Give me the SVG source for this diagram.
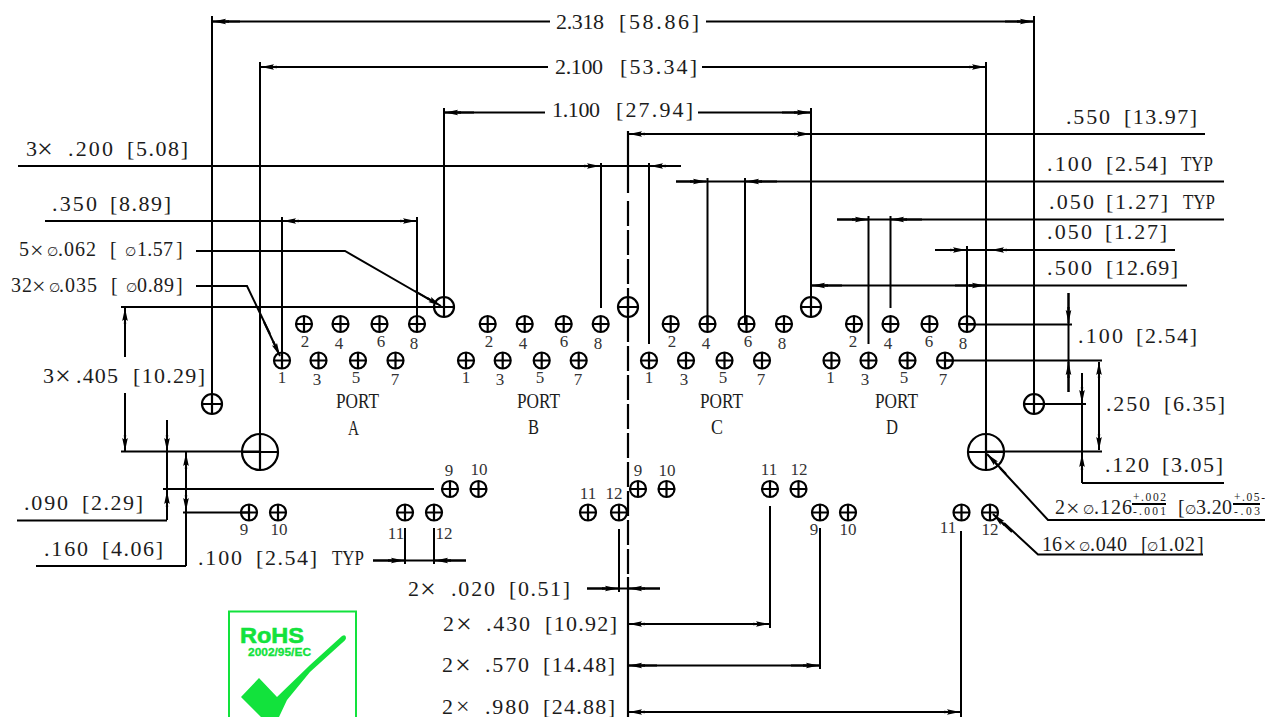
<svg xmlns="http://www.w3.org/2000/svg" width="1265" height="717" viewBox="0 0 1265 717">
<style>
text{font-family:"Liberation Serif","Noto Sans CJK SC",serif;fill:#1c1c1c}
.t{font-size:22px}
.s{font-size:20px}
.n{font-size:17px;text-anchor:middle;fill:#333}
.x{font-size:28px;baseline-shift:-2px}
.y{font-size:24px;baseline-shift:-1.500px}
.z{font-size:24px}
.d{font-size:13px;font-family:"DejaVu Sans",sans-serif}
.f{font-size:11.500px}
#connectors line,#connectors path{stroke:#000;stroke-width:2;fill:none}
#connectors .a{marker-end:url(#arr)}
.h circle,.h path{fill:none;stroke:#000;stroke-width:2.200}
.r{font-family:"Liberation Sans",Arial,sans-serif;font-weight:700;fill:#12e23c;stroke:#12e23c}
</style>
<defs>
<marker id="arr" markerUnits="userSpaceOnUse" markerWidth="18" markerHeight="10" refX="16" refY="5" orient="auto"><path d="M0,3.800L16,5L0,6.200Z" fill="#000"/><path d="M3,2.200L16,5L3,7.800L5,5Z" fill="#000"/></marker>
<g id="pin" class="h"><circle r="8"/><path d="M-8,0H8M0,-8V8"/></g>
<g id="hole" class="h"><circle r="10"/><path d="M-10,0H10M0,-10V10"/></g>
<g id="big" class="h"><circle r="18"/><path d="M-18,0H18M0,-18V18"/></g>
</defs>
<rect width="1265" height="717" fill="#fff"/>

<g id="connectors">
<line x1="212" y1="16" x2="212" y2="404"/><line x1="1034" y1="16" x2="1034" y2="404"/>
<line x1="212" y1="21.500" x2="550" y2="21.500"/><line x1="706" y1="21.500" x2="1034" y2="21.500"/>
<line class="a" x1="240" y1="21.500" x2="213" y2="21.500"/><line class="a" x1="1005" y1="21.500" x2="1033" y2="21.500"/>
<line x1="260" y1="62" x2="260" y2="470"/><line x1="986" y1="62" x2="986" y2="470"/>
<line x1="260" y1="67" x2="548" y2="67"/><line x1="702" y1="67" x2="986" y2="67"/>
<line class="a" x1="290" y1="67" x2="261" y2="67"/><line class="a" x1="957" y1="67" x2="985" y2="67"/>
<line x1="444" y1="108" x2="444" y2="317"/><line x1="811" y1="108" x2="811" y2="317"/>
<line x1="444" y1="112.500" x2="545" y2="112.500"/><line x1="698" y1="112.500" x2="811" y2="112.500"/>
<line class="a" x1="474" y1="112.500" x2="445" y2="112.500"/><line class="a" x1="782" y1="112.500" x2="810" y2="112.500"/>
<line x1="628" y1="134" x2="1205" y2="134"/>
<line class="a" x1="657" y1="134" x2="629" y2="134"/><line class="a" x1="782" y1="134" x2="810" y2="134"/>
<line x1="628" y1="131" x2="628" y2="193" style="stroke-width:2.200"/>
<line x1="628" y1="201" x2="628" y2="576" style="stroke-width:2.200;stroke-dasharray:25 4"/>
<line x1="628" y1="577" x2="628" y2="717" style="stroke-width:2.200"/>
<line x1="18" y1="166" x2="681" y2="166"/>
<line class="a" x1="570" y1="166" x2="600" y2="166"/><line class="a" x1="681" y1="166" x2="650" y2="166"/>
<line x1="601" y1="163" x2="601" y2="308"/><line x1="649" y1="163" x2="649" y2="344"/>
<line x1="676" y1="181.500" x2="1224" y2="181.500"/>
<line class="a" x1="676" y1="181.500" x2="706" y2="181.500"/><line class="a" x1="777" y1="181.500" x2="746" y2="181.500"/>
<line x1="707.500" y1="178" x2="707.500" y2="324"/><line x1="745" y1="178" x2="745" y2="324"/>
<line x1="837" y1="219.500" x2="1224" y2="219.500"/>
<line class="a" x1="837" y1="219.500" x2="868" y2="219.500"/><line class="a" x1="922" y1="219.500" x2="891" y2="219.500"/>
<line x1="868.500" y1="216" x2="868.500" y2="344"/><line x1="890.500" y1="216" x2="890.500" y2="308"/>
<line x1="935" y1="250" x2="1175" y2="250"/>
<line class="a" x1="935" y1="250" x2="966" y2="250"/><line class="a" x1="1018" y1="250" x2="991" y2="250"/>
<line x1="967" y1="246" x2="967" y2="324"/>
<line x1="811" y1="285.500" x2="1187" y2="285.500"/>
<line class="a" x1="842" y1="285.500" x2="812" y2="285.500"/><line class="a" x1="955" y1="285.500" x2="985" y2="285.500"/>
<line x1="45" y1="221" x2="417" y2="221"/>
<line class="a" x1="312" y1="221" x2="283" y2="221"/><line class="a" x1="388" y1="221" x2="416" y2="221"/>
<line x1="282" y1="217" x2="282" y2="360"/><line x1="417" y1="217" x2="417" y2="324"/>
<path d="M196,251H345L430,300"/><line class="a" x1="415" y1="291" x2="441" y2="306"/>
<path d="M196,286H247L270,334"/><line class="a" x1="264" y1="322" x2="280" y2="356"/>
<path d="M1265,520H1048L1000,468"/><line class="a" x1="1006" y1="474" x2="987" y2="454"/>
<path d="M1203,554.500H1038L1004,523"/><line class="a" x1="1012" y1="532" x2="993" y2="514"/>
<line x1="121" y1="307" x2="444" y2="307"/><line x1="121" y1="451.500" x2="260" y2="451.500"/>
<line class="a" x1="125" y1="357" x2="125" y2="308"/><line class="a" x1="125" y1="393" x2="125" y2="451"/>
<line x1="167" y1="420" x2="167" y2="520"/><line x1="17" y1="520.500" x2="167" y2="520.500"/>
<line class="a" x1="167" y1="425" x2="167" y2="451"/><line class="a" x1="167" y1="516" x2="167" y2="491"/>
<line x1="163" y1="489" x2="434" y2="489"/>
<line x1="186" y1="452" x2="186" y2="566"/><line x1="36" y1="566" x2="186" y2="566"/>
<line class="a" x1="186" y1="480" x2="186" y2="453"/><line class="a" x1="186" y1="485" x2="186" y2="511"/>
<line x1="183" y1="512.500" x2="249" y2="512.500"/>
<line x1="967" y1="324.500" x2="1072" y2="324.500"/><line x1="945" y1="360.500" x2="1102" y2="360.500"/>
<line x1="1068.500" y1="293" x2="1068.500" y2="392"/>
<line class="a" x1="1068.500" y1="293" x2="1068.500" y2="323"/><line class="a" x1="1068.500" y1="392" x2="1068.500" y2="362"/>
<line x1="1082" y1="373" x2="1082" y2="483"/><line x1="1082" y1="483" x2="1224" y2="483"/>
<line class="a" x1="1082" y1="375" x2="1082" y2="403"/><line class="a" x1="1082" y1="483" x2="1082" y2="454"/>
<line x1="1034" y1="404" x2="1086" y2="404"/>
<line x1="986" y1="451.500" x2="1102" y2="451.500"/>
<line x1="1099" y1="362" x2="1099" y2="450"/>
<line class="a" x1="1099" y1="390" x2="1099" y2="362"/><line class="a" x1="1099" y1="422" x2="1099" y2="450"/>
<line x1="373" y1="560.500" x2="466" y2="560.500"/>
<line class="a" x1="373" y1="560.500" x2="404" y2="560.500"/><line class="a" x1="466" y1="560.500" x2="435" y2="560.500"/>
<line x1="405" y1="528" x2="405" y2="564"/><line x1="434" y1="528" x2="434" y2="564"/>
<line x1="587" y1="588.500" x2="660" y2="588.500"/>
<line class="a" x1="587" y1="588.500" x2="618" y2="588.500"/><line class="a" x1="660" y1="588.500" x2="629" y2="588.500"/>
<line x1="619" y1="529" x2="619" y2="592"/>
<line x1="628" y1="624" x2="770" y2="624"/>
<line class="a" x1="657" y1="624" x2="629" y2="624"/><line class="a" x1="741" y1="624" x2="769" y2="624"/>
<line x1="770" y1="506" x2="770" y2="628"/>
<line x1="628" y1="665.500" x2="820" y2="665.500"/>
<line class="a" x1="657" y1="665.500" x2="629" y2="665.500"/><line class="a" x1="791" y1="665.500" x2="819" y2="665.500"/>
<line x1="820" y1="528" x2="820" y2="669"/>
<line x1="628" y1="712" x2="961" y2="712"/>
<line class="a" x1="657" y1="712" x2="629" y2="712"/><line class="a" x1="932" y1="712" x2="960" y2="712"/>
<line x1="961" y1="531" x2="961" y2="717"/>
</g>

<g id="holes">
<use href="#hole" x="444" y="307"/><use href="#hole" x="628" y="307"/><use href="#hole" x="811" y="307"/>
<use href="#hole" x="212" y="404"/><use href="#hole" x="1034" y="404"/>
<use href="#big" x="260" y="452"/><use href="#big" x="986" y="452"/>
</g>

<g id="port-a">
<use href="#pin" x="304" y="324"/><use href="#pin" x="340.500" y="324"/><use href="#pin" x="379.500" y="324"/><use href="#pin" x="417" y="324"/>
<use href="#pin" x="282" y="360.500"/><use href="#pin" x="318.500" y="360.500"/><use href="#pin" x="358" y="360.500"/><use href="#pin" x="395.500" y="360.500"/>
<text class="n" x="305" y="347">2</text><text class="n" x="339" y="349">4</text><text class="n" x="381" y="347">6</text><text class="n" x="414" y="349">8</text>
<text class="n" x="282" y="383">1</text><text class="n" x="317" y="385">3</text><text class="n" x="356" y="383">5</text><text class="n" x="395" y="385">7</text>
<text class="t" x="336" y="408" textLength="43" lengthAdjust="spacingAndGlyphs">PORT</text><text class="t" x="348" y="435" textLength="11" lengthAdjust="spacingAndGlyphs">A</text>
<use href="#pin" x="450" y="489"/><use href="#pin" x="478.500" y="489"/><use href="#pin" x="249" y="512.500"/><use href="#pin" x="278" y="512.500"/><use href="#pin" x="405" y="512.500"/><use href="#pin" x="434" y="512.500"/>
<text class="n" x="449" y="476">9</text><text class="n" x="479" y="475">10</text><text class="n" x="244" y="535">9</text><text class="n" x="279" y="535">10</text><text class="n" x="396" y="539">11</text><text class="n" x="444" y="539">12</text>
</g>
<g id="port-b">
<use href="#pin" x="487.700" y="324"/><use href="#pin" x="524.700" y="324"/><use href="#pin" x="563.700" y="324"/><use href="#pin" x="600.700" y="324"/>
<use href="#pin" x="466" y="360.500"/><use href="#pin" x="502.700" y="360.500"/><use href="#pin" x="541.700" y="360.500"/><use href="#pin" x="578.700" y="360.500"/>
<text class="n" x="489" y="347">2</text><text class="n" x="523" y="349">4</text><text class="n" x="564" y="347">6</text><text class="n" x="598" y="349">8</text>
<text class="n" x="466" y="383">1</text><text class="n" x="500" y="385">3</text><text class="n" x="540" y="383">5</text><text class="n" x="578" y="385">7</text>
<text class="t" x="517" y="408" textLength="43" lengthAdjust="spacingAndGlyphs">PORT</text><text class="t" x="528" y="434" textLength="11" lengthAdjust="spacingAndGlyphs">B</text>
<use href="#pin" x="588" y="512.500"/><use href="#pin" x="619" y="512.500"/><use href="#pin" x="638" y="489"/><use href="#pin" x="666.500" y="489"/>
<text class="n" x="588" y="499">11</text><text class="n" x="614" y="499">12</text><text class="n" x="638" y="476">9</text><text class="n" x="667" y="476">10</text>
</g>
<g id="port-c">
<use href="#pin" x="670.700" y="324"/><use href="#pin" x="707.500" y="324"/><use href="#pin" x="746.500" y="324"/><use href="#pin" x="784" y="324"/>
<use href="#pin" x="649" y="360.500"/><use href="#pin" x="686" y="360.500"/><use href="#pin" x="724.500" y="360.500"/><use href="#pin" x="762" y="360.500"/>
<text class="n" x="672" y="347">2</text><text class="n" x="706" y="349">4</text><text class="n" x="748" y="347">6</text><text class="n" x="782" y="349">8</text>
<text class="n" x="649" y="383">1</text><text class="n" x="684" y="385">3</text><text class="n" x="723" y="383">5</text><text class="n" x="761" y="385">7</text>
<text class="t" x="700" y="408" textLength="43" lengthAdjust="spacingAndGlyphs">PORT</text><text class="t" x="711" y="434" textLength="12" lengthAdjust="spacingAndGlyphs">C</text>
<use href="#pin" x="770" y="489"/><use href="#pin" x="798.500" y="489"/><use href="#pin" x="820" y="512.500"/><use href="#pin" x="848" y="512.500"/>
<text class="n" x="769" y="475">11</text><text class="n" x="799" y="475">12</text><text class="n" x="814" y="535">9</text><text class="n" x="848" y="535">10</text>
</g>
<g id="port-d">
<use href="#pin" x="854" y="324"/><use href="#pin" x="890.500" y="324"/><use href="#pin" x="929.500" y="324"/><use href="#pin" x="967" y="324"/>
<use href="#pin" x="831.500" y="360.500"/><use href="#pin" x="868.500" y="360.500"/><use href="#pin" x="907.500" y="360.500"/><use href="#pin" x="945" y="360.500"/>
<text class="n" x="853" y="347">2</text><text class="n" x="888" y="349">4</text><text class="n" x="929" y="347">6</text><text class="n" x="963" y="349">8</text>
<text class="n" x="830.500" y="383">1</text><text class="n" x="865" y="385">3</text><text class="n" x="904" y="383">5</text><text class="n" x="943" y="385">7</text>
<text class="t" x="875" y="408" textLength="43" lengthAdjust="spacingAndGlyphs">PORT</text><text class="t" x="886" y="434" textLength="12" lengthAdjust="spacingAndGlyphs">D</text>
<use href="#pin" x="961.500" y="512.500"/><use href="#pin" x="990" y="512.500"/>
<text class="n" x="948" y="533">11</text><text class="n" x="990" y="535">12</text>
</g>

<g id="labels">
<text class="t" y="29"><tspan x="556" textLength="48">2.318</tspan> <tspan x="619" textLength="80">[58.86]</tspan></text>
<text class="t" y="74"><tspan x="555" textLength="48">2.100</tspan> <tspan x="620" textLength="77">[53.34]</tspan></text>
<text class="t" y="117"><tspan x="552" textLength="48">1.100</tspan> <tspan x="616" textLength="77">[27.94]</tspan></text>
<text class="t" y="124"><tspan x="1066" textLength="44">.550</tspan> <tspan x="1124" textLength="73">[13.97]</tspan></text>
<text class="t" y="171"><tspan x="1047" textLength="45">.100</tspan> <tspan x="1106" textLength="61">[2.54]</tspan> <tspan x="1181" textLength="32" lengthAdjust="spacingAndGlyphs">TYP</tspan></text>
<text class="t" y="209"><tspan x="1049" textLength="45">.050</tspan> <tspan x="1106" textLength="62">[1.27]</tspan> <tspan x="1183" textLength="32" lengthAdjust="spacingAndGlyphs">TYP</tspan></text>
<text class="t" y="239"><tspan x="1047" textLength="45">.050</tspan> <tspan x="1105" textLength="62">[1.27]</tspan></text>
<text class="t" y="275"><tspan x="1047" textLength="45">.500</tspan> <tspan x="1106" textLength="72">[12.69]</tspan></text>
<text class="t" y="343"><tspan x="1078" textLength="45">.100</tspan> <tspan x="1136" textLength="61">[2.54]</tspan></text>
<text class="t" y="411"><tspan x="1106" textLength="44">.250</tspan> <tspan x="1164" textLength="61">[6.35]</tspan></text>
<text class="t" y="472"><tspan x="1105" textLength="44">.120</tspan> <tspan x="1162" textLength="61">[3.05]</tspan></text>
<text class="t" y="156"><tspan x="26">3</tspan><tspan class="x" x="37">×</tspan> <tspan x="68" textLength="45">.200</tspan> <tspan x="127" textLength="61">[5.08]</tspan></text>
<text class="t" y="211"><tspan x="52" textLength="45">.350</tspan> <tspan x="110" textLength="61">[8.89]</tspan></text>
<text class="s" y="256"><tspan x="19">5</tspan><tspan class="y" x="30">×</tspan><tspan class="d" x="47">∅</tspan><tspan x="58" textLength="38">.062</tspan> <tspan x="110">[</tspan><tspan class="d" x="125">∅</tspan><tspan x="137" textLength="36">1.57</tspan><tspan x="176">]</tspan></text>
<text class="s" y="292"><tspan x="11" textLength="21">32</tspan><tspan class="y" x="32">×</tspan><tspan class="d" x="49">∅</tspan><tspan x="59" textLength="38">.035</tspan> <tspan x="111">[</tspan><tspan class="d" x="126">∅</tspan><tspan x="137" textLength="37">0.89</tspan><tspan x="176">]</tspan></text>
<text class="t" y="383"><tspan x="43">3</tspan><tspan class="x" x="55">×</tspan><tspan x="76" textLength="42">.405</tspan> <tspan x="133" textLength="72">[10.29]</tspan></text>
<text class="t" y="510"><tspan x="24" textLength="44">.090</tspan> <tspan x="82" textLength="61">[2.29]</tspan></text>
<text class="t" y="556"><tspan x="44" textLength="44">.160</tspan> <tspan x="102" textLength="61">[4.06]</tspan></text>
<text class="t" y="565"><tspan x="198" textLength="44">.100</tspan> <tspan x="256" textLength="61">[2.54]</tspan> <tspan x="332" textLength="32" lengthAdjust="spacingAndGlyphs">TYP</tspan></text>
<text class="t" y="596"><tspan x="408">2</tspan><tspan class="x" x="420">×</tspan> <tspan x="451" textLength="44">.020</tspan> <tspan x="509" textLength="61">[0.51]</tspan></text>
<text class="t" y="631"><tspan x="443">2</tspan><tspan class="x" x="456">×</tspan> <tspan x="486" textLength="44">.430</tspan> <tspan x="545" textLength="72">[10.92]</tspan></text>
<text class="t" y="672"><tspan x="442">2</tspan><tspan class="x" x="455">×</tspan> <tspan x="485" textLength="44">.570</tspan> <tspan x="543" textLength="72">[14.48]</tspan></text>
<text class="t" y="714"><tspan x="442">2</tspan><tspan class="z" x="456">×</tspan> <tspan x="485" textLength="44">.980</tspan> <tspan x="543" textLength="72">[24.88]</tspan></text>
<text class="s" y="514"><tspan x="1055">2</tspan><tspan class="y" x="1066">×</tspan><tspan class="d" x="1083">∅</tspan><tspan x="1094" textLength="38">.126</tspan></text>
<text class="f" x="1133" y="500.500" textLength="33">+.002</text><text class="f" x="1133" y="515" textLength="33">-.001</text>
<text class="s" y="514"><tspan x="1178">[</tspan><tspan class="d" x="1185">∅</tspan><tspan x="1196" textLength="36">3.20</tspan></text>
<text class="f" x="1234" y="500.500" textLength="31">+.05-</text><text class="f" x="1234" y="515" textLength="26">-.03</text>
<text class="s" y="551"><tspan x="1042" textLength="20">16</tspan><tspan class="y" x="1063">×</tspan><tspan class="d" x="1079">∅</tspan><tspan x="1090" textLength="37">.040</tspan> <tspan x="1141">[</tspan><tspan class="d" x="1147">∅</tspan><tspan x="1158" textLength="37">1.02</tspan><tspan x="1197">]</tspan></text>
<path d="M1132,504H1166M1233,504H1260" stroke="#000" stroke-width="2" fill="none"/>
</g>

<g id="rohs">
<rect x="229" y="611.500" width="127" height="110" fill="none" stroke="#12e23c" stroke-width="2"/>
<text class="r" x="240" y="643" font-size="22" stroke-width=".6" textLength="64" lengthAdjust="spacingAndGlyphs">RoHS</text>
<text class="r" x="248" y="656" font-size="11" stroke-width=".3" textLength="63" lengthAdjust="spacingAndGlyphs">2002/95/EC</text>
<path d="M241,697L259,678L277,697L310,665L342,636Q346,634 346,638Q346,640 342,643L310,672L287,700L279,717H261Z" fill="#12e23c"/>
</g>
</svg>
